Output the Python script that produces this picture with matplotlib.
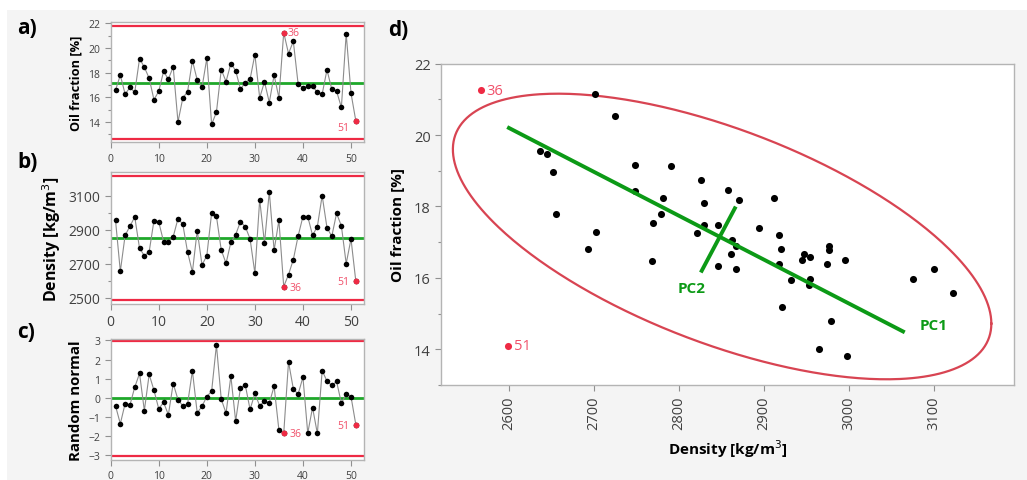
import numpy as np
import matplotlib.pyplot as plt
from matplotlib.patches import Rectangle

plt.rcParams['font.family'] = ['Open Sans', 'DejaVu Sans']

# data (sample 1..51)
sample = np.arange(1, 52)
oil = [16.58, 17.8, 16.26, 16.8, 16.4, 19.14, 18.44, 17.55, 15.8, 16.5,
       18.1, 17.47, 18.47, 14.0, 15.94, 16.47, 18.98, 17.4, 16.8, 19.17,
       13.8, 14.8, 18.25, 17.28, 18.74, 18.17, 16.66, 17.2, 17.47, 19.47,
       15.96, 17.26, 15.58, 17.8, 15.96, 21.25, 19.55, 20.54, 17.07, 16.77,
       16.9, 16.9, 16.4, 16.26, 18.23, 16.66, 16.5, 15.18, 21.16, 16.34, 14.1]
density = [2955, 2656, 2867, 2920, 2975, 2791, 2748, 2770, 2953, 2945,
           2830, 2830, 2858, 2965, 2932, 2768, 2652, 2895, 2693, 2748,
           2998, 2979, 2781, 2703, 2826, 2871, 2947, 2918, 2846, 2645,
           3076, 2822, 3123, 2779, 2955, 2567, 2637, 2725, 2863, 2977,
           2977, 2867, 2918, 3100, 2912, 2861, 2996, 2922, 2701, 2846, 2599]
rand_normal = [-0.43, -1.37, -0.31, -0.39, 0.55, 1.27, -0.68, 1.22, 0.39, -0.59,
               -0.24, -0.90, 0.74, -0.10, -0.43, -0.32, 1.41, -0.80, -0.45, 0.06,
               0.34, 2.77, -0.08, -0.81, 1.13, -1.23, 0.52, 0.67, -0.62, 0.22,
               -0.43, -0.17, -0.29, 0.60, -1.70, -1.88, 1.88, 0.46, 0.18, 1.08,
               -1.86, -0.52, -1.88, 1.42, 0.87, 0.64, 0.85, -0.29, 0.18, 0.06, -1.41]
flagged = [36, 51]

# centre line, upper limit, lower limit
oil_limits = [17.18, 21.76, 12.62]
dens_limits = [2853, 3213, 2488]
rand_limits = [-0.04, 2.95, -3.05]

# confidence ellipse of panel d: centre, half extents, correlation
ell_center = [2851, 17.16]
ell_half = [317, 4.0]
ell_rho = -0.61

# principal component segments in panel d
pc1_x = [2600, 3064]
pc1_y = [20.2, 14.5]
pc2_x = [2827, 2866]
pc2_y = [16.2, 17.95]

RED = '#ee2a44'
RED_TXT = '#f0506a'
GREEN = '#1fa82a'
PC_GREEN = '#0c9a16'
GRAY_SP = '#b4b4b4'
TXT = '#404040'

fig = plt.figure(figsize=(10.27, 4.81), dpi=100)
fig.patch.set_facecolor('white')
fig.patches.append(Rectangle((7 / 1027, 0), 1, 1 - 11 / 481, transform=fig.transFigure,
                             facecolor='#f4f4f4', edgecolor='none', zorder=-10))


def style(ax):
    for s in ax.spines.values():
        s.set_color(GRAY_SP)
        s.set_linewidth(1.0)
    ax.tick_params(colors='#909090', labelcolor=TXT, length=4, width=0.8)
    ax.tick_params(which='minor', colors='#909090', length=2.5, width=0.8)


def control(ax, y, limits, ylim, yticks, yminor, ylabel, lsize, offs):
    ax.plot(sample, y, color='#8c8c8c', lw=0.8, zorder=2)
    ax.scatter(sample, y, s=16, color='black', zorder=3, linewidths=0)
    ax.axhline(limits[0], color=GREEN, lw=2, zorder=1)
    ax.axhline(limits[1], color=RED, lw=1.6, zorder=1)
    ax.axhline(limits[2], color=RED, lw=1.6, zorder=1)
    for k, (dx, dy, ha) in zip(flagged, offs):
        ax.scatter([k], [y[k - 1]], s=18, color=RED, zorder=4, linewidths=0)
        ax.annotate(str(k), (k, y[k - 1]), xytext=(dx, dy), textcoords='offset points',
                    color=RED_TXT, fontsize=7.5, ha=ha, va='center')
    ax.set_xlim(0, 52.7)
    ax.set_ylim(*ylim)
    ax.set_xticks(range(0, 51, 10))
    ax.set_yticks(yticks)
    ax.set_yticks(yminor, minor=True)
    ax.set_ylabel(ylabel, fontsize=lsize, fontweight='bold', color='black', labelpad=4)
    ax.tick_params(labelsize=7.5)
    style(ax)


ax_a = fig.add_axes([0.1078, 0.702, 0.2466, 0.250])
control(ax_a, oil, oil_limits, (12.35, 22.1), [14, 16, 18, 20, 22],
        [13, 15, 17, 19, 21], 'Oil fraction [%]', 9.2, [(3, 0, 'left'), (-5, -5, 'right')])

ax_b = fig.add_axes([0.1078, 0.366, 0.2466, 0.274])
control(ax_b, density, dens_limits, (2465, 3237), [2500, 2700, 2900, 3100],
        [2600, 2800, 3000], 'Density [kg/m$^3$]', 11.5, [(4, -1, 'left'), (-5, 0, 'right')])
ax_b.tick_params(labelsize=10)

ax_c = fig.add_axes([0.1078, 0.042, 0.2466, 0.252])
control(ax_c, rand_normal, rand_limits, (-3.26, 3.1), [-3, -2, -1, 0, 1, 2, 3],
        [], 'Random normal', 10.8, [(4, 0, 'left'), (-5, -1, 'right')])

# panel d: scatter with confidence ellipse and PC axes
ax_d = fig.add_axes([0.4294, 0.1975, 0.5582, 0.668])
dens = np.array(density, float)
oilv = np.array(oil, float)
normal = np.array([k not in flagged for k in sample])
ax_d.scatter(dens[normal], oilv[normal], s=26, color='black', linewidths=0, zorder=3)
ax_d.scatter(dens[~normal], oilv[~normal], s=26, color=RED, linewidths=0, zorder=3)
for k in flagged:
    ax_d.annotate(str(k), (dens[k - 1], oilv[k - 1]), xytext=(4, 0), textcoords='offset points',
                  color=RED_TXT, fontsize=10.5, ha='left', va='center')

t = np.linspace(0, 2 * np.pi, 400)
ex = ell_center[0] + ell_half[0] * np.cos(t)
ey = ell_center[1] + ell_half[1] * (ell_rho * np.cos(t) + np.sqrt(1 - ell_rho ** 2) * np.sin(t))
ax_d.plot(ex, ey, color='#d84452', lw=1.6, zorder=2)

ax_d.plot(pc1_x, pc1_y, color=PC_GREEN, lw=2.8, zorder=4)
ax_d.plot(pc2_x, pc2_y, color=PC_GREEN, lw=2.8, zorder=4)
ax_d.text(3083, 14.68, 'PC1', color=PC_GREEN, fontsize=11, fontweight='bold', va='center')
ax_d.text(2799, 15.72, 'PC2', color=PC_GREEN, fontsize=11, fontweight='bold', va='center', ha='left')

ax_d.set_xlim(2520, 3195)
ax_d.set_ylim(13, 22)
ax_d.set_xticks([2600, 2700, 2800, 2900, 3000, 3100])
ax_d.set_yticks([14, 16, 18, 20, 22])
ax_d.set_yticks([13, 15, 17, 19, 21], minor=True)
ax_d.tick_params(axis='x', labelrotation=90)
ax_d.tick_params(labelsize=10.5)
style(ax_d)
ax_d.set_xlabel('Density [kg/m$^3$]', fontsize=11, fontweight='bold', labelpad=6)
ax_d.set_ylabel('Oil fraction [%]', fontsize=11, fontweight='bold', labelpad=6)

for lbl, (x, y) in zip(['a)', 'b)', 'c)', 'd)'], [(17, 28), (17, 163), (17, 333), (388, 30)]):
    fig.text(x / 1027, 1 - y / 481, lbl, fontsize=15, fontweight='bold', va='center')

fig.savefig('out.png', dpi=100)
